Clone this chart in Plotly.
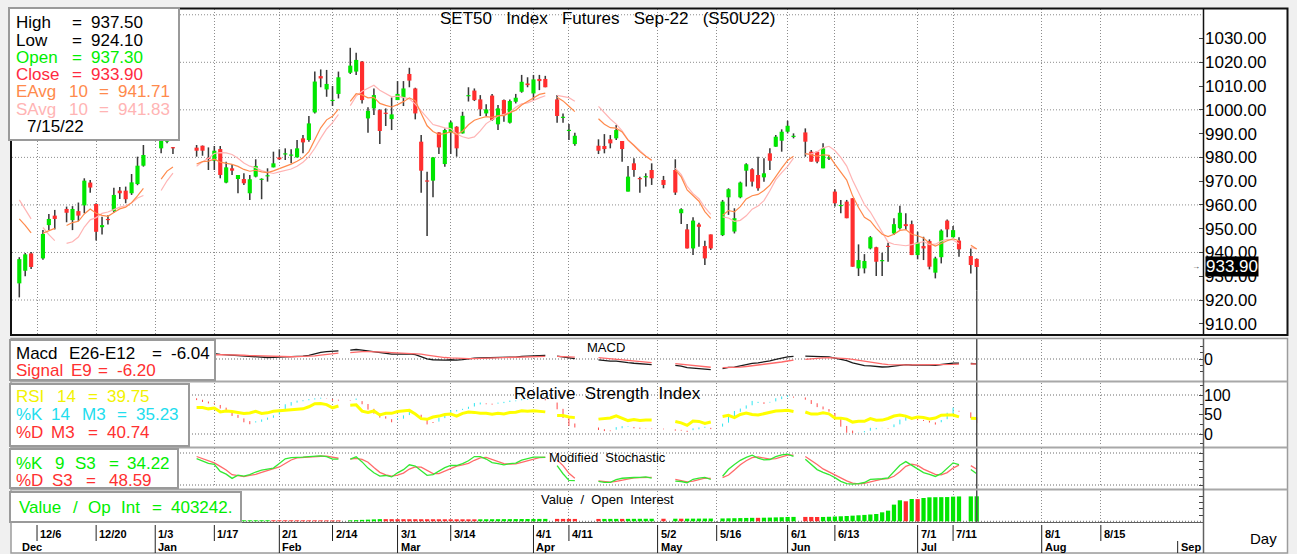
import numpy as np
import pandas as pd
import plotly.graph_objects as go

W, H = 1297, 554
FONT = "Liberation Sans, Arial, Helvetica, sans-serif"

# ------------------------------------------------------------------ data
start_date = "2021-12-01"          # first weekday shown; one entry per weekday, None = holiday

opens = [
    927.0, 932.3, 939.6, None, 937.5, 951.5, 955.5, None, 958.3, 953.6,
    957.4, 959.8, 969.4, 960.4, 950.6, 954.1, 957.4, 966.0, 966.0, 964.9,
    968.8, 976.5, None, None, 983.8, 986.6, 984.2, None, None, None,
    984.1, 984.9, 979.8, 978.6, 983.5, 969.4, 975.4, 970.9, 970.9, 964.9,
    971.9, 970.5, 972.0, 975.8, 980.0, 981.2, 980.7, 980.0, 988.0, 987.3,
    998.9, 1014.2, 1008.6, 1003.7, 1006.7, None, 1015.6, 1016.1, 1020.3, 996.4,
    1000.6, 999.9, 998.7, 996.1, 1004.1, 1005.2, 1015.1, 1009.0, 986.6, 970.2,
    970.2, 990.5, 977.2, 990.4, 992.9, 990.1, 1005.7, 1008.1, 1004.4, 998.5,
    1006.0, 993.9, 1004.1, 994.6, 1003.4, 1007.6, 1011.1, 1006.9, 1013.0, 1013.0,
    None, 1004.4, 996.6, 991.1, 985.6, None, None, None, 984.9, 984.8,
    987.6, 988.0, 986.9, 965.6, 977.5, 971.0, 971.6, 974.7, None, 970.5,
    None, 974.7, 956.5, 949.7, 941.7, 951.8, 942.7, 947.6, None, 947.3,
    963.2, 948.8, 963.2, 974.4, 975.0, 972.6, 971.6, 981.7, 984.5, 987.0,
    990.8, 988.6, None, 990.5, 982.4, 982.4, 975.4, 979.5, 965.6, 959.5,
    961.4, 962.8, 933.3, 933.3, 941.7, 942.2, 936.3, 942.6, 948.0, 950.2,
    951.9, 951.9, 938.9, 942.7, 944.8, 931.5, 938.0, 953.4, 946.4, 945.0,
    None, 938.5, 937.3]

highs = [
    938.0, 939.8, 940.2, None, 949.4, 956.2, 957.9, None, 959.3, 959.5,
    961.0, 971.2, 970.5, 960.7, 955.0, 955.7, 967.2, 967.5, 967.7, 973.0,
    980.3, 985.2, None, None, 990.0, 991.0, 984.4, None, None, None,
    985.2, 985.0, 984.2, 984.8, 984.8, 978.2, 977.2, 972.6, 973.3, 972.6,
    979.2, 971.2, 975.4, 982.4, 983.4, 983.8, 983.4, 987.3, 989.4, 997.4,
    1016.1, 1017.0, 1016.8, 1010.0, 1016.1, None, 1026.1, 1024.0, 1020.5, 1001.1,
    1009.0, 1000.2, 1000.6, 1005.2, 1012.1, 1012.1, 1017.7, 1009.3, 989.4, 974.0,
    980.2, 990.6, 992.2, 995.4, 993.1, 999.2, 1009.5, 1009.0, 1006.2, 1002.3,
    1006.7, 1002.0, 1004.4, 1004.4, 1006.7, 1014.7, 1013.7, 1014.7, 1014.7, 1014.3,
    None, 1006.2, 998.5, 994.0, 990.4, None, None, None, 987.6, 989.8,
    989.4, 993.6, 986.9, 976.4, 979.6, 971.9, 973.3, 977.5, None, 972.2,
    None, 979.2, 958.6, 952.0, 954.8, 952.5, 944.9, 947.6, None, 962.1,
    967.0, 958.6, 969.8, 977.5, 975.4, 980.3, 979.6, 983.8, 989.4, 991.8,
    995.4, 990.1, None, 992.2, 983.1, 982.4, 985.9, 981.0, 966.6, 962.1,
    962.1, 962.8, 943.4, 939.3, 946.9, 942.4, 939.9, 944.1, 954.4, 959.6,
    956.5, 953.4, 948.7, 946.6, 945.5, 938.2, 949.7, 953.9, 951.1, 946.4,
    None, 941.7, 937.5]

lows = [
    921.1, 930.0, 933.0, None, 936.9, 949.4, 949.7, None, 952.7, 949.4,
    953.2, 956.5, 965.1, 945.0, 947.6, 951.8, 956.7, 962.5, 960.7, 964.2,
    968.3, 976.1, None, None, 981.7, 985.9, 981.4, None, None, None,
    980.3, 980.7, 974.7, 974.7, 971.2, 969.1, 972.6, 964.9, 968.4, 962.1,
    971.6, 962.4, 969.8, 975.8, 978.9, 978.9, 977.5, 980.0, 981.7, 986.6,
    998.5, 1009.5, 1005.5, 1001.6, 1004.8, None, 1015.1, 1014.7, 1002.7, 990.4,
    997.8, 985.6, 993.2, 991.5, 1004.1, 1001.6, 1009.5, 996.0, 965.1, 946.9,
    963.2, 981.4, 976.1, 981.4, 980.3, 990.0, 1003.5, 1003.7, 997.4, 997.4,
    995.4, 991.5, 995.0, 994.3, 1002.7, 1007.2, 1009.5, 1004.1, 1008.3, 1009.5,
    None, 994.6, 994.6, 987.3, 984.9, None, None, None, 981.4, 981.7,
    983.8, 987.3, 978.2, 965.6, 971.9, 965.1, 967.7, 968.4, None, 967.0,
    None, 964.2, 952.0, 941.7, 938.9, 942.4, 934.7, 941.0, None, 946.9,
    955.8, 948.0, 962.8, 967.7, 967.7, 966.0, 969.8, 974.7, 984.5, 982.4,
    990.1, 988.0, None, 980.3, 978.2, 977.5, 975.4, 978.9, 959.3, 956.5,
    954.4, 934.0, 930.1, 931.2, 941.3, 930.1, 930.1, 936.1, 947.3, 949.7,
    949.4, 938.9, 937.1, 936.8, 932.9, 929.1, 935.4, 946.4, 946.4, 938.2,
    None, 931.2, 924.1]

closes = [
    937.2, 939.2, 933.9, None, 947.8, 954.1, 954.1, None, 956.7, 958.3,
    955.5, 970.2, 967.3, 948.7, 951.5, 953.6, 964.2, 964.9, 962.4, 969.5,
    976.5, 981.0, None, None, 988.5, 989.5, 983.8, None, None, None,
    982.8, 982.8, 979.3, 982.8, 972.6, 975.8, 974.4, 972.6, 969.1, 970.8,
    976.4, 970.7, 972.4, 977.5, 979.2, 981.4, 981.0, 983.8, 986.3, 994.3,
    1011.9, 1013.2, 1010.9, 1004.0, 1013.7, None, 1018.6, 1021.0, 1004.1, 999.6,
    1006.2, 991.1, 998.3, 998.1, 1006.7, 1009.0, 1012.3, 998.5, 974.4, 969.8,
    980.0, 984.2, 991.5, 994.7, 983.8, 997.5, 1006.0, 1004.1, 1000.2, 1000.2,
    995.7, 1000.6, 997.8, 1003.7, 1005.1, 1011.8, 1010.4, 1012.8, 1012.1, 1009.5,
    None, 997.4, 996.9, 991.4, 989.1, None, None, None, 982.8, 983.5,
    985.9, 991.5, 983.5, 971.9, 974.7, 970.8, 971.9, 971.2, None, 968.4,
    None, 965.2, 958.2, 941.7, 953.4, 950.8, 937.5, 941.7, None, 961.4,
    966.6, 954.4, 969.4, 977.1, 969.8, 967.0, 973.3, 978.6, 988.7, 990.8,
    993.3, 988.8, None, 986.6, 978.2, 978.2, 983.8, 979.7, 960.7, 959.7,
    954.4, 934.0, 936.8, 936.4, 946.4, 936.1, 936.5, 942.3, 951.9, 956.7,
    951.1, 938.9, 944.2, 941.7, 934.0, 937.5, 949.2, 949.7, 949.4, 941.3,
    None, 934.7, 933.9]

open_interest = [
    12000, 12300, 12500, None, 12400, 12800, 13000, None, 12900, 13200,
    13400, 13300, 13600, 13800, 13700, 14000, 14100, 14000, 14200, 14300,
    14500, 14400, None, None, 14600, 14800, 14700, None, None, None,
    14900, 15000, 14800, 15100, 15300, 15200, 15400, 15600, 15800, 16000,
    16300, 16500, 16800, 16600, 16400, 16200, 16000, 15800, 15600, 15400,
    15200, 15000, 14800, 14600, 14400, None, 16000, 19000, 23000, 27000,
    31000, 35000, 34800, 34600, 34400, 34200, 34000, 33800, 33600, 33400,
    33200, 33000, 32800, 32600, 32400, 32200, 32000, 31800, 32500, 33000,
    33600, 34200, 34800, 35400, 36000, 36600, 37200, 37800, 38400, 39000,
    None, 38800, 38600, 38400, 38200, None, None, None, 38000, 38400,
    38800, 39200, 39000, 39500, 40000, 40500, 41000, 41500, None, 41300,
    None, 42000, 41800, 42500, 43000, 43500, 44000, 44500, None, 46000,
    48000, 50000, 52000, 54000, 56000, 55800, 58000, 60000, 63000, 66000,
    69000, 71000, None, 70500, 70000, 69500, 70000, 73000, 77000, 81000,
    86000, 91000, 97000, 103000, 110000, 118000, 145000, 172000, 269000, 339000,
    323000, 360000, 358000, 376000, 387000, 388500, 389500, 391000, 398000, 401000,
    None, 402000, 403242]

# moving-average values at the first trading days (history before Dec-1)
ema_seed = 954.1
sma_head = [962.1, 958.0, 954.1, 950.5, 947.5, 945.0, 943.8, 944.5, 946.5]
macd_fast_seed = 955.0
macd_slow_seed = 963.0

week_tick_dates = ["2021-12-06", "2021-12-20", "2022-01-03", "2022-01-17", "2022-02-01",
                   "2022-02-14", "2022-03-01", "2022-03-14", "2022-04-01", "2022-04-11",
                   "2022-05-02", "2022-05-16", "2022-06-01", "2022-06-13", "2022-07-01",
                   "2022-07-11", "2022-08-01", "2022-08-15"]
week_tick_labels = ["12/6", "12/20", "1/3", "1/17", "2/1", "2/14", "3/1", "3/14", "4/1", "4/11",
                    "5/2", "5/16", "6/1", "6/13", "7/1", "7/11", "8/1", "8/15"]
month_dates = ["2021-12-01", "2022-01-03", "2022-02-01", "2022-03-01", "2022-04-01",
               "2022-05-02", "2022-06-01", "2022-07-01", "2022-08-01", "2022-09-01"]
month_labels = ["Dec", "Jan", "Feb", "Mar", "Apr", "May", "Jun", "Jul", "Aug", "Sep"]

title_text = "SET50   Index   Futures   Sep-22   (S50U22)"
readout = {"date": "7/15/22", "eavg": "941.71", "savg": "941.83", "macd": "-6.04",
           "signal": "-6.20", "rsi": "39.75", "k14": "35.23", "d14": "40.74",
           "k9": "34.22", "d9": "48.59", "oi": "403242."}

# ------------------------------------------------------------------ helpers
GREEN, RED = "#00E600", "#FF2E2E"


def fx(px):
    return px / W


def fy(py):
    return 1 - py / H


X_LEFT, X_RIGHT = 12, 1203
X0_PX, PX_PER_DAY = 19.3, 5.91
XR = [(X_LEFT - X0_PX) / PX_PER_DAY, (X_RIGHT - X0_PX) / PX_PER_DAY]

cal = pd.bdate_range(start_date, periods=240)
pos = {d.strftime("%Y-%m-%d"): i for i, d in enumerate(cal)}
week_idx = [pos[d] for d in week_tick_dates]
month_idx = [pos[d] for d in month_dates]

N = len(closes)
o = pd.Series(opens, dtype=float)
h = pd.Series(highs, dtype=float)
l = pd.Series(lows, dtype=float)
c = pd.Series(closes, dtype=float)
oi = pd.Series(open_interest, dtype=float)
T = np.arange(N)[c.notna().values]
ot, ht, lt, ct = [s[T].reset_index(drop=True) for s in (o, h, l, c)]
oit = oi[T].reset_index(drop=True)


def full(vals):
    arr = np.full(N, np.nan)
    arr[T] = np.asarray(vals, dtype=float)
    return arr


# indicators (computed over trading days, as the charting package does)
ema = []
e = ema_seed
for k, v in enumerate(ct):
    if k > 0:
        e += (v - e) * 2 / 11
    ema.append(e)
sma = ct.rolling(10).mean()
sma.iloc[:len(sma_head)] = sma_head

f, s = macd_fast_seed, macd_slow_seed
macd = []
for v in ct:
    f += (v - f) * 2 / 13
    s += (v - s) * 2 / 27
    macd.append(f - s)
macd = pd.Series(macd)
signal = macd.ewm(span=9, adjust=False).mean()

diff = ct.diff().values
rsi = np.full(len(ct), np.nan)
n = 14
g = np.clip(diff[1:n + 1], 0, None).mean()
ls = np.clip(-diff[1:n + 1], 0, None).mean()
rsi[n] = 100 - 100 / (1 + g / ls)
for k in range(n + 1, len(ct)):
    g = (g * (n - 1) + max(diff[k], 0)) / n
    ls = (ls * (n - 1) + max(-diff[k], 0)) / n
    rsi[k] = 100 - 100 / (1 + g / ls)


def stoch(period):
    hh = ht.rolling(period).max()
    ll = lt.rolling(period).min()
    fk = 100 * (ct - ll) / (hh - ll)
    kk = fk.rolling(3).mean()
    return kk, kk.rolling(3).mean()


k14, d14 = stoch(14)
k9, d9 = stoch(9)

# ------------------------------------------------------------------ figure
fig = go.Figure()

# candles: wicks then bodies (overlayed bars)
fig.add_trace(go.Bar(x=T, base=lt, y=ht - lt, width=0.26,
                     marker=dict(color="#3a3a3a", line=dict(width=0)),
                     xaxis="x", yaxis="y", hoverinfo="skip"))
body_base = np.minimum(ot, ct)
body_len = np.maximum(np.abs(ct - ot), 0.5)
body_col = [GREEN if cc >= oo else RED for oo, cc in zip(ot, ct)]
fig.add_trace(go.Bar(x=T, base=body_base, y=body_len, width=0.7,
                     marker=dict(color=body_col, line=dict(width=0)),
                     xaxis="x", yaxis="y"))
fig.add_trace(go.Scatter(x=np.arange(N), y=full(sma), mode="lines", connectgaps=False,
                         line=dict(color="#FFB4B4", width=1.2), xaxis="x", yaxis="y"))
fig.add_trace(go.Scatter(x=np.arange(N), y=full(ema), mode="lines", connectgaps=False,
                         line=dict(color="#FF8A4C", width=1.2), xaxis="x", yaxis="y"))

# MACD
fig.add_trace(go.Scatter(x=np.arange(N), y=full(macd), mode="lines", connectgaps=False,
                         line=dict(color="#1a1a1a", width=1.3), xaxis="x2", yaxis="y2"))
fig.add_trace(go.Scatter(x=np.arange(N), y=full(signal), mode="lines", connectgaps=False,
                         line=dict(color="#FF6A6A", width=1.3), xaxis="x2", yaxis="y2"))

# RSI with %K/%D ribbon
ux, uy, dx, dy = [], [], [], []
for xi, kv, dv in zip(T, k14, d14):
    if np.isnan(kv) or np.isnan(dv):
        continue
    if kv >= dv:
        ux += [xi, xi, None]
        uy += [dv, kv + 0.8, None]
    else:
        dx += [xi, xi, None]
        dy += [kv - 0.8, dv, None]
fig.add_trace(go.Scatter(x=ux, y=uy, mode="lines", line=dict(color="#2EE6F0", width=1),
                         xaxis="x3", yaxis="y3"))
fig.add_trace(go.Scatter(x=dx, y=dy, mode="lines", line=dict(color="#FF4A4A", width=1),
                         xaxis="x3", yaxis="y3"))
fig.add_trace(go.Scatter(x=np.arange(N), y=full(rsi), mode="lines", connectgaps=False,
                         line=dict(color="#FFFF00", width=3), xaxis="x3", yaxis="y3"))

# Modified stochastic
fig.add_trace(go.Scatter(x=np.arange(N), y=full(d9), mode="lines", connectgaps=False,
                         line=dict(color="#FF6A6A", width=1.3), xaxis="x4", yaxis="y4"))
fig.add_trace(go.Scatter(x=np.arange(N), y=full(k9), mode="lines", connectgaps=False,
                         line=dict(color="#33E833", width=1.3), xaxis="x4", yaxis="y4"))

# Value / open interest
oi_col = [GREEN] + [GREEN if oit[k] >= oit[k - 1] else RED for k in range(1, len(oit))]
fig.add_trace(go.Bar(x=T, y=oit, width=0.72, marker=dict(color=oi_col, line=dict(width=0)),
                     xaxis="x5", yaxis="y5"))

# ------------------------------------------------------------------ axes
MAIN_TOP, MAIN_BOT = 9, 334
v_per_px = 10 / 23.77


def main_val(py):
    return 1020 - (py - 62.3) * v_per_px


visible = T >= 33
mtop = max(np.nanmax(macd[visible]), np.nanmax(signal[visible]))
m_scale = 9.5 / mtop                      # px per unit
MACD_RANGE = [-20 / m_scale, 19 / m_scale]
OI_PX = 16130.0


def xa(anchor):
    return dict(domain=[fx(X_LEFT), fx(X_RIGHT)], range=XR, anchor=anchor,
                tickmode="array", tickvals=week_idx, showticklabels=False, ticks="",
                showgrid=True, gridcolor="#8c8c8c", griddash="1px,2px", gridwidth=1,
                zeroline=False, showline=False, fixedrange=True)


def ya(top, bot, rng, anchor, **kw):
    d = dict(domain=[fy(bot), fy(top)], range=rng, anchor=anchor, side="right",
             showgrid=False, zeroline=False, showline=False, ticks="inside", ticklen=4,
             tickcolor="#444", tickfont=dict(family=FONT, size=16, color="black"),
             fixedrange=True)
    d.update(kw)
    return d


layout = dict(
    width=W, height=H, margin=dict(l=0, r=0, t=0, b=0),
    paper_bgcolor="#F0F0F0", plot_bgcolor="white", showlegend=False, barmode="overlay",
    xaxis=xa("y"), xaxis2=xa("y2"), xaxis3=xa("y3"), xaxis4=xa("y4"), xaxis5=xa("y5"),
    yaxis=ya(MAIN_TOP, MAIN_BOT, [main_val(MAIN_BOT), main_val(MAIN_TOP)], "x",
             tickmode="array", tickvals=list(range(910, 1031, 10)), tickformat=".2f",
             tickfont=dict(family=FONT, size=17, color="black"), ticklabelstandoff=1),
    yaxis2=ya(340, 379, MACD_RANGE, "x2", tickmode="array", tickvals=[0], ticktext=["0"],
              minor=dict(ticks="inside", ticklen=3, dtick=8, tickcolor="#444")),
    yaxis3=ya(383, 446, [-12 / 0.39, 100 + 12 / 0.39], "x3", tickmode="array",
              tickvals=[0, 50, 100], minor=dict(ticks="inside", ticklen=3, dtick=25,
                                                tickcolor="#444")),
    yaxis4=ya(448, 487, [-2 / 0.32, 100 + 5 / 0.32], "x4", tickmode="array",
              tickvals=[0, 25, 50, 75, 100], showticklabels=False),
    yaxis5=ya(491, 522, [-0.7 * OI_PX, 30.3 * OI_PX], "x5", tickmode="array",
              tickvals=[0, 100000, 200000, 300000, 400000], showticklabels=False),
)
fig.update_layout(**layout)

# ------------------------------------------------------------------ shapes
shapes = []


def prect(x0, y0, x1, y1, fill=None, line=None, width=1, layer="below"):
    shapes.append(dict(type="rect", xref="paper", yref="paper", x0=fx(x0), x1=fx(x1),
                       y0=fy(y1), y1=fy(y0), fillcolor=fill or "rgba(0,0,0,0)",
                       line=dict(color=line or "rgba(0,0,0,0)", width=width if line else 0),
                       layer=layer))


def pline(x0, y0, x1, y1, color, width=1, layer="above", dash=None):
    shapes.append(dict(type="line", xref="paper", yref="paper", x0=fx(x0), x1=fx(x1),
                       y0=fy(y0), y1=fy(y1), line=dict(color=color, width=width, dash=dash),
                       layer=layer))


# white panel backgrounds
prect(11, 8, 1288, 336, fill="white")
prect(11, 338, 1288, 553, fill="white")

# horizontal dotted grid in the price panel
for gv in range(920, 1041, 20):
    shapes.append(dict(type="line", xref="x domain", yref="y", x0=0, x1=1, y0=gv, y1=gv,
                       line=dict(color="#8c8c8c", width=1, dash="1px,2px"), layer="below"))
# reference levels in the indicator panels
for ax, lv in (("y2", 0), ("y3", 0), ("y3", 100), ("y4", 0), ("y4", 100), ("y5", 0)):
    xr_ = {"y2": "x2 domain", "y3": "x3 domain", "y4": "x4 domain", "y5": "x5 domain"}[ax]
    shapes.append(dict(type="line", xref=xr_, yref=ax, x0=0, x1=1, y0=lv, y1=lv,
                       line=dict(color="#6c6c6c", width=1, dash="1px,2px"), layer="below"))

# cursor line on the last bar
last = int(T[-1])
shapes.append(dict(type="line", xref="x", yref="y", x0=last, x1=last, y0=lows[-1],
                   y1=main_val(MAIN_BOT), line=dict(color="#505050", width=1.5), layer="above"))
shapes.append(dict(type="line", xref="x", yref="paper", x0=last, x1=last, y0=fy(522),
                   y1=fy(339), line=dict(color="#505050", width=1.5), layer="above"))

# frames
prect(11, 8.5, 1287.5, 335, line="#111111", width=2, layer="above")
pline(1203.5, 8, 1203.5, 335, "#111111", 1.5)
prect(11, 338.5, 1287.5, 553, line="#9c9c9c", width=1.5, layer="above")
for sy in (381.5, 447.5, 489.5):
    pline(11, sy, 1287.5, sy, "#a8a8a8", 2)
pline(11, 522.5, 1203.5, 522.5, "#606060", 1)
pline(1203.5, 338.5, 1203.5, 553, "#606060", 1.5)

# date axis ticks
for wi in week_idx:
    shapes.append(dict(type="line", xref="x", yref="paper", x0=wi, x1=wi, y0=fy(541),
                       y1=fy(525), line=dict(color="#202020", width=1), layer="above"))
for mi in month_idx[1:]:
    shapes.append(dict(type="line", xref="x", yref="paper", x0=mi, x1=mi, y0=fy(553),
                       y1=fy(541), line=dict(color="#202020", width=1), layer="above"))

# label boxes (drawn over the data)
BOX = "#9a9a9a"
prect(9, 8, 179, 140, fill="white", line=BOX, width=2, layer="above")
prect(10, 340, 215, 380, fill="white", line=BOX, width=2, layer="above")
prect(10, 384, 189, 446, fill="white", line=BOX, width=2, layer="above")
prect(10, 449, 178, 488, fill="white", line=BOX, width=2, layer="above")
prect(10, 492, 241, 522, fill="white", line=BOX, width=2, layer="above")

fig.update_layout(shapes=shapes)

# ------------------------------------------------------------------ text
ann = []


def ptxt(x, y, s, color="black", size=17, anchor="left", bg=None):
    a = dict(xref="paper", yref="paper", x=fx(x), y=fy(y), text=s, showarrow=False,
             xanchor=anchor, yanchor="middle", font=dict(family=FONT, size=size, color=color),
             borderpad=0)
    if bg:
        a["bgcolor"] = bg
    ann.append(a)


def row(tokens, y, color, size=17):
    for t, x in tokens:
        ptxt(x, y, t, color, size)


# price readout box
row([("High", 15), ("=", 70.5), (f"{highs[-1]:.2f}", 90.5)], 22.7, "black")
row([("Low", 15), ("=", 70.5), (f"{lows[-1]:.2f}", 90.5)], 40.0, "black")
row([("Open", 15), ("=", 70.5), (f"{opens[-1]:.2f}", 90.5)], 57.4, "#00EE00")
row([("Close", 15), ("=", 70.5), (f"{closes[-1]:.2f}", 90.5)], 74.4, "#FF2A40")
row([("EAvg", 15), ("10", 67.5), ("=", 97.5), (readout["eavg"], 116.5)], 91.8, "#FF8A4C")
row([("SAvg", 15), ("10", 67.5), ("=", 97.5), (readout["savg"], 116.5)], 109.0, "#FFB4B4")
row([(readout["date"], 26)], 126.7, "black")

# indicator readouts
row([("Macd", 15), ("E26-E12", 68), ("=", 150.5), (readout["macd"], 169.5)], 353, "black")
row([("Signal", 15), ("E9", 70), ("=", 97), (readout["signal"], 115.5)], 370, "#FF3030")
row([("RSI", 15), ("14", 55.5), ("=", 86.5), (readout["rsi"], 105.5)], 396, "#F2F200")
row([("%K", 15), ("14", 49.5), ("M3", 80.5), ("=", 115.5), (readout["k14"], 134.5)], 414,
    "#22DDEE")
row([("%D", 15), ("M3", 49.5), ("=", 86.5), (readout["d14"], 105.5)], 432, "#FF3030")
row([("%K", 15), ("9", 53.5), ("S3", 74), ("=", 107.5), (readout["k9"], 126)], 463,
    "#00EE00")
row([("%D", 15), ("S3", 51.5), ("=", 84.5), (readout["d9"], 107.5)], 480.5, "#FF3030")
row([("Value", 18), ("/", 72), ("Op", 86.5), ("Int", 119.5), ("=", 151), (readout["oi"], 169.5)],
    507, "#00EE00")

# titles
ptxt(607, 18, title_text, "black", 17, "center")
ptxt(606, 347, "MACD", "black", 13, "center")
ptxt(607, 393, "Relative  Strength  Index", "black", 17, "center")
ptxt(607, 457, "Modified  Stochastic", "black", 13, "center")
ptxt(607, 499, "Value  /  Open  Interest", "black", 13, "center")
ptxt(1263, 538, "Day", "black", 15, "center")

# last price badge
ann.append(dict(xref="paper", yref="y", x=fx(1205), y=closes[-1], text=f"{closes[-1]:.2f}",
                showarrow=False, xanchor="left", yanchor="middle", bgcolor="black",
                font=dict(family=FONT, size=17, color="white"), borderpad=0))
ann.append(dict(xref="paper", yref="y", x=fx(1196), y=closes[-1], text="→", showarrow=False,
                xanchor="center", yanchor="middle", font=dict(family=FONT, size=8, color="#333")))

# date labels
for wi, lab in zip(week_idx, week_tick_labels):
    ann.append(dict(xref="x", yref="paper", x=wi, y=fy(534), text=f"<b>{lab}</b>",
                    showarrow=False, xanchor="left", yanchor="middle", xshift=1,
                    font=dict(family=FONT, size=11, color="black")))
for mi, lab in zip(month_idx, month_labels):
    ann.append(dict(xref="x", yref="paper", x=mi, y=fy(547), text=f"<b>{lab}</b>",
                    showarrow=False, xanchor="left", yanchor="middle", xshift=1,
                    font=dict(family=FONT, size=11, color="black")))

fig.update_layout(annotations=ann)
fig.write_html("out.html", config={"displayModeBar": False, "staticPlot": True},
               post_script="document.body.style.margin='0px';"
                           "document.body.style.overflow='hidden';")
